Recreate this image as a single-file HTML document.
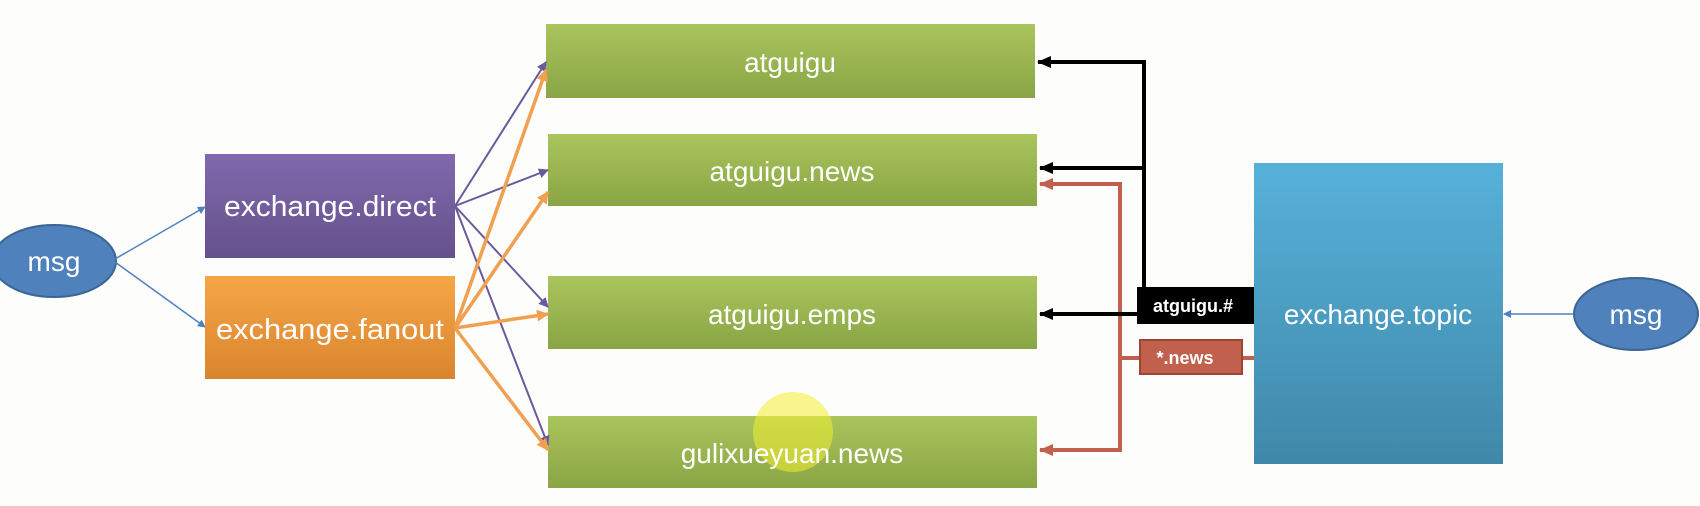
<!DOCTYPE html>
<html><head><meta charset="utf-8"><style>
body{margin:0;background:#fdfdfb;}
svg{display:block;font-family:"Liberation Sans",sans-serif;}
</style></head><body>
<svg width="1700" height="506" viewBox="0 0 1700 506" xmlns="http://www.w3.org/2000/svg">
<defs>
<linearGradient id="g" x1="0" y1="0" x2="0" y2="1"><stop offset="0" stop-color="#aac55c"/><stop offset="1" stop-color="#89a545"/></linearGradient>
<linearGradient id="p" x1="0" y1="0" x2="0" y2="1"><stop offset="0" stop-color="#8169ad"/><stop offset="1" stop-color="#65518c"/></linearGradient>
<linearGradient id="o" x1="0" y1="0" x2="0" y2="1"><stop offset="0" stop-color="#f6a546"/><stop offset="1" stop-color="#d9852f"/></linearGradient>
<linearGradient id="b" x1="0" y1="0" x2="0" y2="1"><stop offset="0" stop-color="#56b1da"/><stop offset="1" stop-color="#4088a9"/></linearGradient>
<marker id="ab" markerWidth="8" markerHeight="8" refX="7" refY="4" orient="auto" markerUnits="userSpaceOnUse"><path d="M0,0 L8,4 L0,8 z" fill="#4f81bd"/></marker>
<marker id="ap" markerWidth="10" markerHeight="10" refX="9" refY="5" orient="auto" markerUnits="userSpaceOnUse"><path d="M0,0 L10,5 L0,10 z" fill="#6a5a9c"/></marker>
<marker id="ao" markerWidth="12" markerHeight="12" refX="11" refY="6" orient="auto" markerUnits="userSpaceOnUse"><path d="M0,0 L12,6 L0,12 z" fill="#f0a050"/></marker>
<marker id="ak" markerWidth="14" markerHeight="14" refX="13" refY="7" orient="auto" markerUnits="userSpaceOnUse"><path d="M0,1 L14,7 L0,13 z" fill="#000"/></marker>
<marker id="ar" markerWidth="14" markerHeight="14" refX="13" refY="7" orient="auto" markerUnits="userSpaceOnUse"><path d="M0,1 L14,7 L0,13 z" fill="#c0604d"/></marker>
</defs>

<ellipse cx="54" cy="261" rx="62" ry="36" fill="#4f81bd" stroke="#3a6595" stroke-width="2"/>
<text x="54" y="271" font-size="28" fill="#fff" text-anchor="middle">msg</text>
<line x1="115" y1="259" x2="205" y2="207" stroke="#4f81bd" stroke-width="1.5" marker-end="url(#ab)"/>
<line x1="115" y1="262" x2="205" y2="327" stroke="#4f81bd" stroke-width="1.5" marker-end="url(#ab)"/>

<rect x="205" y="154" width="250" height="104" fill="url(#p)"/>
<text x="330" y="216" font-size="29" fill="#fff" text-anchor="middle" textLength="212" lengthAdjust="spacingAndGlyphs">exchange.direct</text>
<rect x="205" y="276" width="250" height="103" fill="url(#o)"/>
<text x="330" y="339" font-size="29" fill="#fff" text-anchor="middle" textLength="228" lengthAdjust="spacingAndGlyphs">exchange.fanout</text>

<rect x="546" y="24" width="489" height="74" fill="url(#g)"/>
<text x="790" y="72" font-size="28" fill="#fff" text-anchor="middle">atguigu</text>
<rect x="548" y="134" width="489" height="72" fill="url(#g)"/>
<text x="792" y="181" font-size="28" fill="#fff" text-anchor="middle">atguigu.news</text>
<rect x="548" y="276" width="489" height="73" fill="url(#g)"/>
<text x="792" y="324" font-size="28" fill="#fff" text-anchor="middle">atguigu.emps</text>
<rect x="548" y="416" width="489" height="72" fill="url(#g)"/>
<circle cx="793" cy="432" r="40" fill="#f2ee30" opacity="0.55"/>
<text x="792" y="463" font-size="28" fill="#fff" text-anchor="middle">gulixueyuan.news</text>

<g stroke="#6a5a9c" stroke-width="2" fill="none">
<line x1="455" y1="206" x2="546" y2="62" marker-end="url(#ap)"/>
<line x1="455" y1="206" x2="548" y2="170" marker-end="url(#ap)"/>
<line x1="455" y1="206" x2="548" y2="307" marker-end="url(#ap)"/>
<line x1="455" y1="206" x2="548" y2="445" marker-end="url(#ap)"/>
</g>
<g stroke="#f0a050" stroke-width="3.5" fill="none">
<line x1="455" y1="328" x2="546" y2="70" marker-end="url(#ao)"/>
<line x1="455" y1="328" x2="548" y2="192" marker-end="url(#ao)"/>
<line x1="455" y1="328" x2="548" y2="314" marker-end="url(#ao)"/>
<line x1="455" y1="328" x2="548" y2="450" marker-end="url(#ao)"/>
</g>

<g stroke="#c0604d" stroke-width="4" fill="none">
<polyline points="1140,358 1120,358 1120,184 1040,184" marker-end="url(#ar)"/>
<polyline points="1120,358 1120,450 1040,450" marker-end="url(#ar)"/>
<line x1="1242" y1="358" x2="1254" y2="358"/>
</g>
<g stroke="#000" stroke-width="4" fill="none">
<polyline points="1144,290 1144,62 1038,62" marker-end="url(#ak)"/>
<polyline points="1144,168 1040,168" marker-end="url(#ak)"/>
<line x1="1137" y1="314" x2="1040" y2="314" marker-end="url(#ak)"/>
</g>

<rect x="1254" y="163" width="249" height="301" fill="url(#b)"/>
<text x="1378" y="324" font-size="28" fill="#fff" text-anchor="middle">exchange.topic</text>

<rect x="1137" y="287" width="117" height="37" fill="#000"/>
<text x="1193" y="312" font-size="18" font-weight="bold" fill="#fff" text-anchor="middle">atguigu.#</text>
<rect x="1140" y="340" width="102" height="34" fill="#c0604d" stroke="#9c4536" stroke-width="2"/>
<text x="1185" y="364" font-size="18" font-weight="bold" fill="#fff" text-anchor="middle">*.news</text>

<ellipse cx="1636" cy="314" rx="62" ry="36" fill="#4f81bd" stroke="#3a6595" stroke-width="2"/>
<text x="1636" y="324" font-size="28" fill="#fff" text-anchor="middle">msg</text>
<line x1="1574" y1="314" x2="1504" y2="314" stroke="#4f81bd" stroke-width="1.5" marker-end="url(#ab)"/>
</svg>
</body></html>
